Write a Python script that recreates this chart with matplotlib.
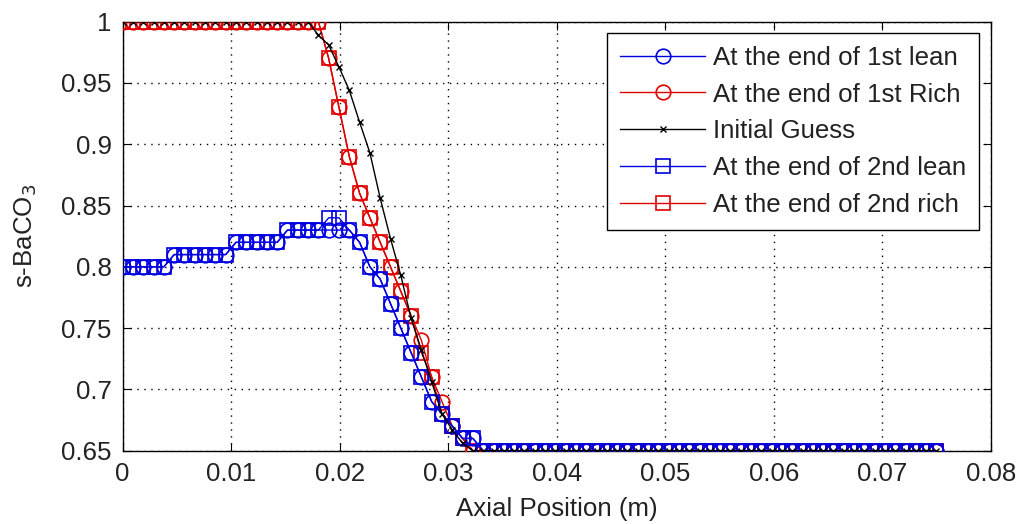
import numpy as np
import matplotlib
matplotlib.use('Agg')
import matplotlib.pyplot as plt

plt.rcParams['font.family'] = ['Liberation Sans', 'DejaVu Sans']

# axial grid of the model (80 nodes over 0.075 m)
x = np.linspace(0, 0.075, 80)

lean1 = ([0.80]*5 + [0.81]*6 + [0.82]*5 + [0.83]*4 + [0.83]*2 +
         [0.83, 0.82, 0.80, 0.79, 0.77, 0.75, 0.73, 0.71, 0.69, 0.68, 0.67, 0.66, 0.66] + [0.65]*45)
rich1 = ([1.0]*20 +
         [0.97, 0.93, 0.89, 0.86, 0.84, 0.82, 0.80, 0.78, 0.76, 0.74, 0.71, 0.69, 0.67, 0.66] + [0.65]*46)
guess = ([1.0]*19 +
         [0.989, 0.981, 0.963, 0.944, 0.918, 0.893, 0.856, 0.823, 0.793, 0.758, 0.732, 0.706, 0.680,
          0.667, 0.656] + [0.65]*46)
lean2 = ([0.80]*5 + [0.81]*6 + [0.82]*5 + [0.83]*4 + [0.84]*2 +
         [0.83, 0.82, 0.80, 0.79, 0.77, 0.75, 0.73, 0.71, 0.69, 0.68, 0.67, 0.66, 0.66] + [0.65]*45)
rich2 = ([1.0]*20 +
         [0.97, 0.93, 0.89, 0.86, 0.84, 0.82, 0.80, 0.78, 0.76, 0.73, 0.71, 0.68, 0.67, 0.66] + [0.65]*46)

labels = ['At the end of 1st lean', 'At the end of 1st Rich', 'Initial Guess',
          'At the end of 2nd lean', 'At the end of 2nd rich']
xticks = [0, 0.01, 0.02, 0.03, 0.04, 0.05, 0.06, 0.07, 0.08]
xticklabels = ['0', '0.01', '0.02', '0.03', '0.04', '0.05', '0.06', '0.07', '0.08']
yticks = [0.65, 0.7, 0.75, 0.8, 0.85, 0.9, 0.95, 1.0]
yticklabels = ['0.65', '0.7', '0.75', '0.8', '0.85', '0.9', '0.95', '1']

fs = 18.6
fig = plt.figure(figsize=(10.18, 5.24), dpi=100)
ax = fig.add_axes([0.1205, 0.1399, 0.8527, 0.8187])

ms = 10.5
l1, = ax.plot(x, lean1, '-o', color='#0000e0', mfc='none', ms=ms, mew=1.2, lw=1, zorder=4)
r1, = ax.plot(x, rich1, '-o', color='#e00000', mfc='none', ms=ms, mew=1.2, lw=1, zorder=3)
g, = ax.plot(x, guess, '-x', color='k', ms=5, lw=1, zorder=6)
l2, = ax.plot(x, lean2, '-s', color='#0000e0', mfc='none', ms=ms, mew=1.2, lw=1, zorder=5)
r2, = ax.plot(x, rich2, '-s', color='#e00000', mfc='none', ms=ms, mew=1.2, lw=1, zorder=3.5)

ax.set_xlim(0, 0.08)
ax.set_ylim(0.65, 1.0)
ax.set_xticks(xticks)
ax.set_xticklabels(xticklabels)
ax.set_yticks(yticks)
ax.set_yticklabels(yticklabels)
ax.tick_params(direction='in', length=6, labelsize=fs, labelcolor='#222222',
               top=True, right=True, pad=8)
ax.grid(True, color='k', linestyle=(0, (1, 4)), linewidth=1)
for s in ax.spines.values():
    s.set_linewidth(1)

ax.set_xlabel('Axial Position (m)', fontsize=fs, color='#222222', labelpad=8)
ax.set_ylabel('s-BaCO$_3$', fontsize=fs, color='#222222', labelpad=16)

leg = ax.legend([l1, r1, g, l2, r2], labels, loc='upper right',
                bbox_to_anchor=(0.9865, 0.9744), borderaxespad=0, fontsize=fs,
                handlelength=3.3, labelspacing=0.5, handletextpad=0.3, borderpad=0.5,
                fancybox=False, framealpha=1)
leg.get_frame().set_edgecolor('k')
leg.get_frame().set_linewidth(1)
for t in leg.get_texts():
    t.set_color('#222222')

fig.savefig('out.png', dpi=100)
